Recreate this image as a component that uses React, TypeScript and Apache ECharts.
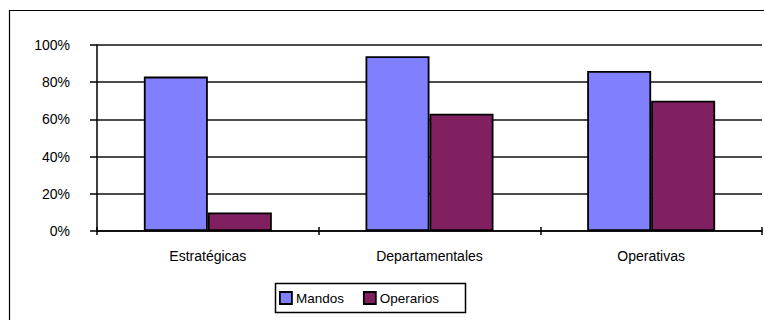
import React, { useEffect, useRef } from "react";
import * as echarts from "echarts";

const categories = ["Estratégicas", "Departamentales", "Operativas"];
const mandos = [83, 94, 86];
const operarios = [10, 63, 70];
const seriesNames = ["Mandos", "Operarios"];
const seriesColors = ["#8080FF", "#802060"];

const FONT = "Arial, 'Liberation Sans', sans-serif";

export default function App() {
  const ref = useRef<HTMLDivElement>(null);

  useEffect(() => {
    if (!ref.current) return;
    const chart = echarts.init(ref.current, null, { renderer: "svg" });
    chart.setOption({
      animation: false,
      backgroundColor: "#ffffff",
      grid: { left: 97, top: 45, width: 665, height: 186, containLabel: false },
      xAxis: [
        {
          type: "category",
          data: categories,
          boundaryGap: true,
          axisLine: { show: true, lineStyle: { color: "#000", width: 1.5 } },
          axisTick: { show: true, alignWithLabel: false, length: 4, lineStyle: { color: "#000", width: 1.5 } },
          axisLabel: { color: "#000", fontFamily: FONT, fontSize: 14, margin: 18 },
          splitLine: { show: false },
        },
        {
          // inner half of the cross tick marks
          type: "category",
          data: categories,
          position: "bottom",
          boundaryGap: true,
          axisLine: { show: false },
          axisTick: { show: true, inside: true, alignWithLabel: false, length: 4, lineStyle: { color: "#000", width: 1.5 } },
          axisLabel: { show: false },
          splitLine: { show: false },
        },
      ],
      yAxis: {
        type: "value",
        min: 0,
        max: 100,
        interval: 20,
        axisLine: { show: true, lineStyle: { color: "#000", width: 1.5 } },
        axisTick: { show: true, length: 7, lineStyle: { color: "#000", width: 1.5 } },
        axisLabel: { color: "#000", fontFamily: FONT, fontSize: 14, margin: 27, formatter: "{value}%" },
        splitLine: { show: true, lineStyle: { color: "#111", width: 1.5 } },
      },
      legend: {
        left: 279,
        top: 291,
        padding: 0,
        itemGap: 19,
        itemWidth: 12,
        itemHeight: 12,
        icon: "rect",
        data: seriesNames,
        textStyle: { color: "#000", fontFamily: FONT, fontSize: 13.5, padding: [1, 0, 0, -1] },
        itemStyle: { borderColor: "#000", borderWidth: 1.8 },
      },
      graphic: [
        {
          type: "rect",
          shape: { x: 9.5, y: 10.5, width: 800, height: 400 },
          style: { fill: "none", stroke: "#000", lineWidth: 1.2 },
          silent: true,
        },
        {
          type: "rect",
          shape: { x: 275.5, y: 283.5, width: 190, height: 29 },
          style: { fill: "none", stroke: "#000", lineWidth: 1.5 },
          silent: true,
        },
      ],
      series: [
        {
          name: seriesNames[0],
          type: "bar",
          data: mandos,
          barWidth: 64,
          barGap: "0%",
          itemStyle: { color: seriesColors[0], borderColor: "#000", borderWidth: 1.8 },
        },
        {
          name: seriesNames[1],
          type: "bar",
          data: operarios,
          barWidth: 64,
          barGap: "0%",
          itemStyle: { color: seriesColors[1], borderColor: "#000", borderWidth: 1.8 },
        },
      ],
    });
    return () => chart.dispose();
  }, []);

  return (
    <div
      ref={ref}
      style={{ position: "fixed", left: 0, top: 0, width: 764, height: 320, background: "#fff" }}
    />
  );
}
